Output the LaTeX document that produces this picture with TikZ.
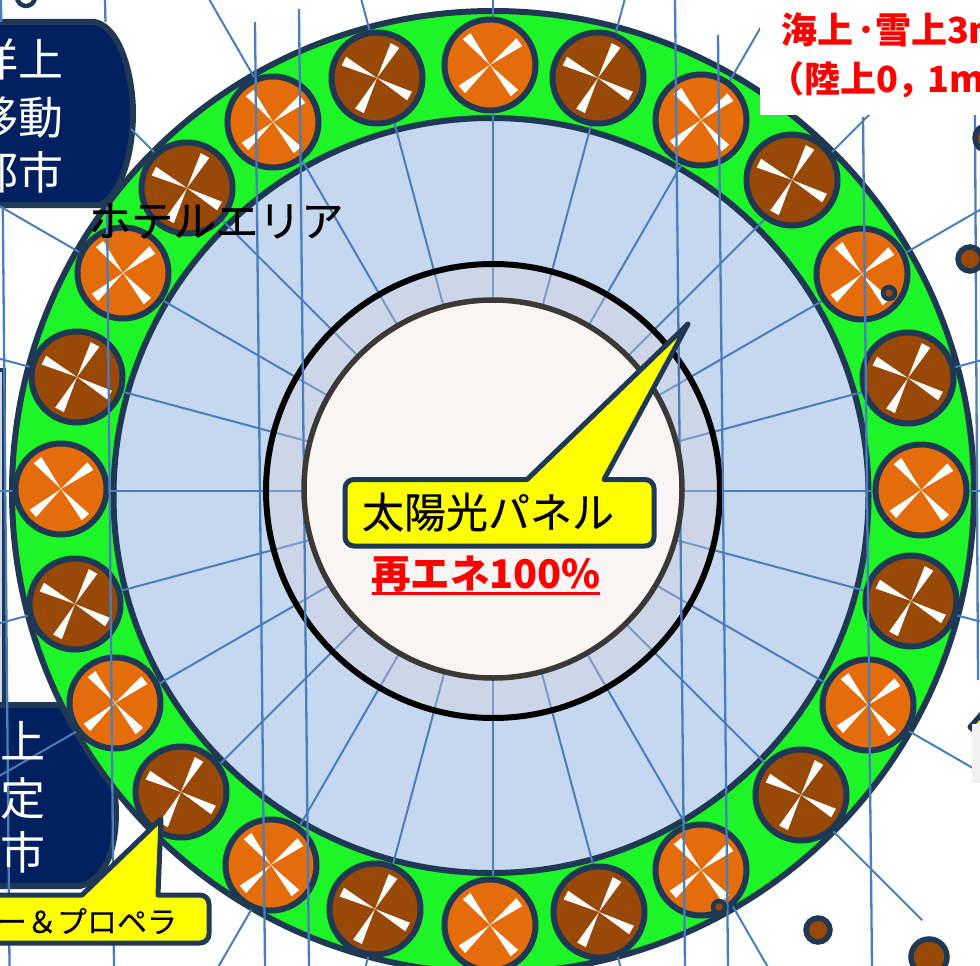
\documentclass[tikz,border=0pt]{standalone}
\usepackage{fontspec}
\newfontfamily\jp{Noto Sans CJK JP}
\newfontfamily\jpm[FakeBold=0.35]{Noto Sans CJK JP}
\definecolor{navy}{RGB}{0,32,96}
\definecolor{edgeblue}{RGB}{31,56,84}
\definecolor{ringgreen}{RGB}{30,245,40}
\definecolor{skyfill}{RGB}{197,216,240}
\definecolor{annulus}{RGB}{205,214,232}
\definecolor{corefill}{RGB}{249,245,244}
\definecolor{coreedge}{RGB}{59,56,56}
\definecolor{spokeblue}{RGB}{74,126,187}
\definecolor{spokepale}{RGB}{120,155,200}
\definecolor{orangeT}{RGB}{228,108,10}
\definecolor{brownT}{RGB}{152,72,7}
\definecolor{calloutY}{RGB}{255,255,0}
\definecolor{redT}{RGB}{255,0,0}
\tikzset{
  spoke/.style={draw=spokeblue,line width=2},
  spokeP/.style={draw=spokepale,line width=2},
  vline/.style={draw=spokeblue,line width=2.3},
  darkedge/.style={draw=edgeblue,line width=6,line join=round},
  bubble/.style={draw=edgeblue,fill=calloutY,line width=5,line join=round},
  blade/.style={fill=white,draw=none},
  smallc/.style={draw=edgeblue,fill=brownT,line width=5.5},
  tinyc/.style={draw=edgeblue,fill=brownT,line width=4.5},
  label/.style={inner sep=0,outer sep=0,font=\jp},
}
\newcommand{\turbine}[4]{%
  \fill[#3] (#1,#2) circle (45.5);
  \foreach \q in {#4} {
    \fill[blade] (#1,#2) -- ++(-\q-7.5:37.5) -- ++(-\q+90:9.8) -- cycle;
  }
  \draw[darkedge] (#1,#2) circle (45.5);
}
\begin{document}
\begin{tikzpicture}[x=1pt,y=-1pt]
\useasboundingbox (0,0) rectangle (980,966);
\fill[white] (0,0) rectangle (980,966);
% left panel
\fill[annulus] (-10,370) rectangle (4,705);
\draw[edgeblue,line width=4] (-10,370) -- (4,370) -- (4,705);
% navy panels
\path[fill=navy,darkedge] (-10,22) -- (95,22) .. controls (122,28) and (133,80) .. (133,113)
   .. controls (133,150) and (122,195) .. (100,205) -- (-10,205) -- cycle;
\path[fill=navy,darkedge] (-10,705) -- (60,705) .. controls (100,730) and (116,780) .. (116,812)
   .. controls (116,850) and (105,880) .. (80,886) -- (-10,886) -- cycle;
% ring and inner discs
\path[fill=ringgreen,darkedge] (493,492) circle (481);
\path[fill=skyfill,darkedge] (491,495.5) circle (377.5);
\fill[annulus] (493,491) circle (227);
% spokes
\foreach \a in {0,15,...,345} {
  \draw[spoke] (493,491) ++(\a:227) -- ++(\a:165);
  \draw[spokeP] (493,491) ++(\a:187) -- ++(\a:41);
}
\draw[black,line width=6] (493,491) circle (227);
\foreach \a in {0,15,30,45,60,75,90,105,120,150,165,180,195,210,240,255,270,285,300,330,345} {
  \draw[spoke] (493,491) ++(-\a:470) -- ++(-\a:170);
}
\draw[spoke] (493,491) ++(-135:470) -- ++(-135:42);
\draw[spoke] (493,491) ++(-315:470) -- ++(-315:137);
% turbines
\foreach \x/\y [count=\i] in {490/65,598/78,701/120,792/180,862/274,908/378,921/490,911/601,868/705,801/795,701/870,599/912,490/925,375/909,271/865,181/792,115/703,75/604,61/489,77/377,123/273,187/188,273/122,377/78} {
  \pgfmathparse{int(mod(\i,2))}
  \ifnum\pgfmathresult=1
    \turbine{\x}{\y}{orangeT}{38,129,221,311}
  \else
    \turbine{\x}{\y}{brownT}{61,153,242,331}
  \fi
}
% near-vertical lines
\draw[vline] (1,0) -- (1.2,22);
\draw[vline] (2.8,207) -- (9.5,966);
\draw[vline] (105,0) -- (105.5,22);
\draw[vline] (107,207) -- (114,966);
\draw[vline] (255,22) -- (265,966);
\draw[vline] (299,9) -- (309,966);
\draw[vline] (675,0) -- (685,966);
\draw[vline] (718,35) -- (728,966);
\draw[vline] (863,117) -- (872,966);
\draw[vline] (975,115) -- (978,680);
% core disc
\draw[coreedge,fill=corefill,line width=5.5] (493,489) circle (189);
% small circles
\draw[tinyc,fill=white] (26,-3) circle (9);
\draw[smallc] (988,138) circle (13);
\draw[smallc] (970,259) circle (12);
\draw[tinyc] (889,293) circle (6);
\draw[tinyc] (719,907) circle (6);
\draw[smallc] (818,930) circle (12);
\draw[smallc] (929,957) circle (18);
% white label box and grey box
\fill[white] (760,0) rectangle (980,115);
\draw[bubble] (970,727) -- (985,710) -- (985,740) -- cycle;
\fill[black!5] (972,724) rectangle (980,783);
% centre callout
\path[bubble,rounded corners=9] (345,479.5) -- (510,479.5) [sharp corners] -- (527,479.5) -- (688,324) -- (604,479.5) -- (620,479.5)
   [rounded corners=9] -- (654,479.5) -- (654,546) -- (345,546) -- cycle;
% lower callout
\path[bubble,rounded corners=9] (-10,895) -- (60,895) [sharp corners] -- (82,895) -- (161,819) -- (158,895) -- (175,895)
   [rounded corners=9] -- (209,895) -- (209,943) -- (-10,943) -- cycle;
% texts
\node[label,text=white,anchor=east,font=\jp\fontsize{45}{45}\selectfont] (t1) at (63,59) {洋上};
\node[label,text=white,anchor=east,font=\jp\fontsize{45}{45}\selectfont] (t2) at (63,118) {移動};
\node[label,text=white,anchor=east,font=\jp\fontsize{45}{45}\selectfont] (t3) at (63,172) {都市};
\node[label,text=white,font=\jp\fontsize{45}{45}\selectfont] (b1) at (23,741) {上};
\node[label,text=white,font=\jp\fontsize{45}{45}\selectfont] (b2) at (23,799) {定};
\node[label,text=white,font=\jp\fontsize{45}{45}\selectfont] (b3) at (23,852) {市};
\node[label,text=black,font=\jpm\fontsize{42.5}{43}\selectfont] (hotel) at (216,221) {ホテルエリア};
\node[label,text=black,font=\jpm\fontsize{42}{43}\selectfont] (solar) at (488,512) {太陽光パネル};
\node[label,text=redT,font=\jp\bfseries\fontsize{39.5}{40}\selectfont] (re) at (486,574) {再エネ100\%};
\draw[redT,line width=3] (372,593) -- (600,593);
\node[label,text=black,anchor=east,font=\jpm\fontsize{30}{30}\selectfont] (prop) at (177,921) {ー＆プロペラ};
\node[label,text=redT,anchor=west,font=\jp\bfseries\fontsize{36}{36}\selectfont] (red1) at (781,30) {海上\hspace{4pt}･雪上3m};
\node[label,text=redT,anchor=west,font=\jp\bfseries\fontsize{36}{36}\selectfont] (red2) at (768,80) {（陸上0，\hspace{-6pt}1m）};
\end{tikzpicture}
\end{document}
